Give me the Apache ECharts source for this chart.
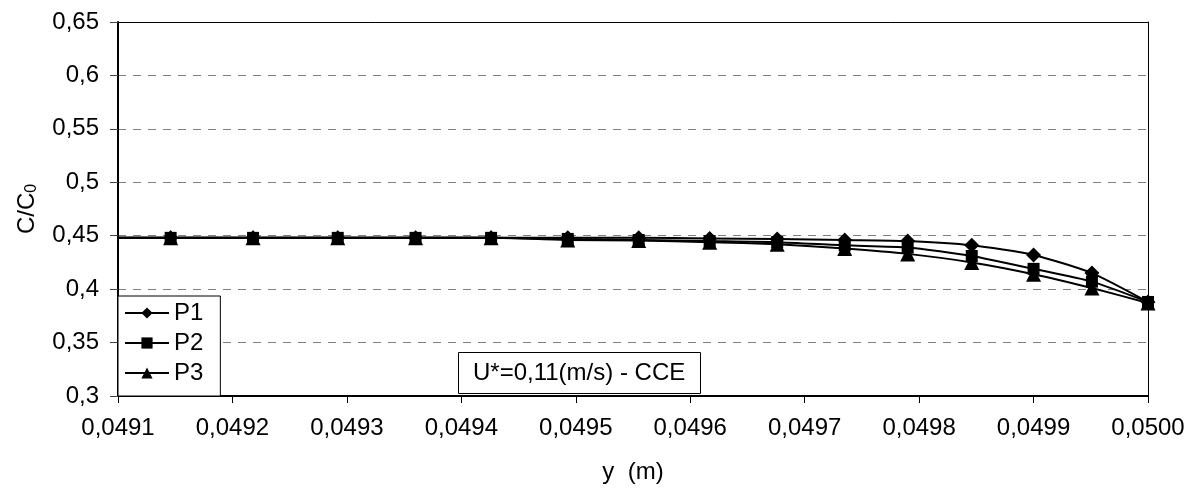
<!DOCTYPE html>
<html>
<head>
<meta charset="utf-8">
<script src="https://cdn.jsdelivr.net/npm/echarts@6/dist/echarts.min.js"></script>
<style>
html,body{margin:0;padding:0;background:#fff;}
#chart{width:1199px;height:492px;}
</style>
</head>
<body>
<div id="chart"></div>
<script>
// y positions (m)
const yPositions = [0.04910, 0.049146, 0.049218, 0.049292, 0.049360, 0.049426, 0.049493, 0.049555, 0.049617, 0.049676, 0.049735, 0.049790, 0.049846, 0.049900, 0.049951, 0.050000];
// C/C0 values
const p1 = [0.448, 0.448, 0.448, 0.448, 0.448, 0.448, 0.448, 0.448, 0.4475, 0.447, 0.446, 0.445, 0.441, 0.432, 0.415, 0.388];
const p2 = [0.448, 0.448, 0.448, 0.448, 0.448, 0.448, 0.447, 0.446, 0.445, 0.444, 0.441, 0.439, 0.431, 0.419, 0.407, 0.388];
const p3 = [0.448, 0.448, 0.448, 0.448, 0.448, 0.448, 0.446, 0.4455, 0.444, 0.442, 0.438, 0.433, 0.425, 0.414, 0.401, 0.387];
// point 0 is the axis boundary (no marker)
const markerShown = [false, true, true, true, true, true, true, true, true, true, true, true, true, true, true, true];
const seriesNames = ['P1', 'P2', 'P3'];
const seriesValues = [p1, p2, p3];
const seriesSymbols = ['diamond', 'rect', 'triangle'];
const symbolSizes = [15, 12, 15];
const annotation = 'U*=0,11(m/s) - CCE';

const chart = echarts.init(document.getElementById('chart'));
const FONT = '"Liberation Sans", Arial, sans-serif';

function build(vals) {
  return vals.map((v, k) => {
    const item = { value: [yPositions[k], v] };
    if (!markerShown[k]) item.symbol = 'none';
    return item;
  });
}

const series = seriesNames.map((n, i) => ({
  name: n,
  type: 'line',
  data: build(seriesValues[i]),
  symbol: seriesSymbols[i],
  symbolSize: symbolSizes[i],
  smooth: 0.2,
  clip: true,
  lineStyle: { color: '#000', width: 2 },
  itemStyle: { color: '#000', borderWidth: 0 },
  z: 3
}));

const fmtX = v => v.toFixed(4).replace('.', ',');
const fmtY = v => String(+v.toFixed(2)).replace('.', ',');

chart.setOption({
  animation: false,
  backgroundColor: '#fff',
  textStyle: { fontFamily: FONT, color: '#000' },
  grid: { left: 118, right: 51, top: 22, bottom: 96, show: false },
  title: {
    text: annotation,
    left: 458,
    top: 352,
    padding: [9, 15, 9, 15],
    borderWidth: 1,
    borderColor: '#000',
    backgroundColor: '#fff',
    textStyle: { fontFamily: FONT, fontSize: 24, fontWeight: 'normal', color: '#000' }
  },
  legend: {
    data: seriesNames,
    orient: 'vertical',
    left: 118,
    top: 296,
    itemWidth: 44,
    itemHeight: 14,
    itemGap: 6,
    padding: [5, 17, 11, 6],
    borderColor: '#000',
    borderWidth: 1,
    backgroundColor: '#fff',
    textStyle: { fontFamily: FONT, fontSize: 24, color: '#000' }
  },
  xAxis: [{
    type: 'value',
    min: 0.0491,
    max: 0.0500,
    interval: 0.0001,
    name: 'y  (m)',
    nameLocation: 'middle',
    nameGap: 64,
    nameTextStyle: { fontFamily: FONT, fontSize: 24, color: '#000' },
    axisLine: { onZero: false, lineStyle: { color: '#000', width: 2 } },
    axisTick: { show: true, length: 7, lineStyle: { color: '#000', width: 1 } },
    axisLabel: { fontFamily: FONT, fontSize: 24, color: '#000', margin: 20, formatter: fmtX, showMinLabel: true, showMaxLabel: true },
    splitLine: { show: false }
  }, {
    type: 'value',
    position: 'top',
    min: 0.0491,
    max: 0.0500,
    interval: 0.0001,
    axisLine: { onZero: false, lineStyle: { color: '#000', width: 1 } },
    axisTick: { show: false },
    axisLabel: { show: false },
    splitLine: { show: false }
  }],
  yAxis: [{
    type: 'value',
    min: 0.3,
    max: 0.65,
    interval: 0.05,
    name: 'C/C{sub|0}',
    nameLocation: 'middle',
    nameGap: 78,
    nameTextStyle: {
      fontFamily: FONT, fontSize: 24, color: '#000',
      rich: { sub: { fontFamily: FONT, fontSize: 16, color: '#000', padding: [10, 0, 0, 0] } }
    },
    axisLine: { show: true, onZero: false, lineStyle: { color: '#000', width: 2 } },
    axisTick: { show: true, length: 8, lineStyle: { color: '#444', width: 1 } },
    axisLabel: { fontFamily: FONT, fontSize: 24, color: '#000', margin: 19, formatter: fmtY },
    splitLine: { show: true, lineStyle: { color: '#808080', width: 1, type: [8, 7] } }
  }, {
    type: 'value',
    position: 'right',
    min: 0.3,
    max: 0.65,
    interval: 0.05,
    axisLine: { show: true, onZero: false, lineStyle: { color: '#000', width: 1 } },
    axisTick: { show: false },
    axisLabel: { show: false },
    splitLine: { show: false }
  }],
  series: series
});
</script>
</body>
</html>
